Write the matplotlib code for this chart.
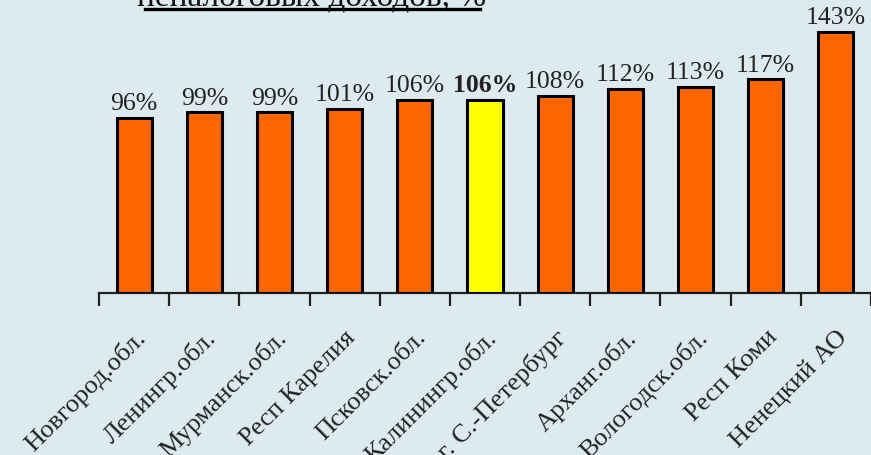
import numpy as np
import matplotlib.pyplot as plt
from matplotlib.lines import Line2D

# données : темпы роста неналоговых доходов
regions = ['Новгород.обл.', 'Ленингр.обл.', 'Мурманск.обл.', 'Респ Карелия',
           'Псковск.обл.', 'Калинингр.обл.', 'г. С.-Петербург', 'Арханг.обл.',
           'Вологодск.обл.', 'Респ Коми', 'Ненецкий АО']
valeurs = [96, 99, 99, 101, 106, 106, 108, 112, 113, 117, 143]
surligne = 'Калинингр.обл.'

fond = '#DDEBF1'
plt.rcParams['font.family'] = ['Liberation Serif', 'DejaVu Serif']

fig = plt.figure(figsize=(8.71, 4.55), dpi=100, facecolor=fond)
ax = fig.add_axes([99/871, 1 - 293/455, 1 - 99/871, 292/455])
ax.set_facecolor(fond)

x = np.arange(len(regions))
couleurs = ['#FFFF00' if r == surligne else '#FF6600' for r in regions]
bars = ax.bar(x, valeurs, width=0.5, color=couleurs,
              edgecolor='black', linewidth=2.2, zorder=3)

# étiquettes de valeurs
for xi, v, r in zip(x, valeurs, regions):
    ax.text(xi, v + 1.5, str(v) + '%', ha='center', va='bottom',
            fontsize=18.5, color='#222222',
            fontweight='bold' if r == surligne else 'normal')

ax.set_xlim(-0.5, len(regions) - 0.5)
ax.set_ylim(0, 160)

# axe horizontal avec graduations entre les barres
ax.set_xticks(np.arange(len(regions) + 1) - 0.5)
ax.set_xticklabels([])
ax.tick_params(axis='x', direction='out', length=9, width=1.6, color='#222222')
ax.set_xticks(x, minor=True)
ax.set_xticklabels(regions, minor=True, rotation=45, ha='right',
                   rotation_mode='anchor', fontsize=19, color='#222222')
ax.tick_params(axis='x', which='minor', length=0, pad=24)
ax.set_yticks([])
for s in ['left', 'right', 'top']:
    ax.spines[s].set_visible(False)
ax.spines['bottom'].set_linewidth(1.6)
ax.spines['bottom'].set_color('#222222')

# titre (en partie coupé en haut, comme dans l'original)
fig.text(312/871, 1 - 6/455, 'неналоговых доходов, %', ha='center', va='baseline',
         fontsize=24, color='#111111')
fig.add_artist(Line2D([145/871, 480/871], [1 - 9/455, 1 - 9/455],
                      transform=fig.transFigure, color='black', linewidth=2.4))

plt.savefig('out.png', dpi=100, facecolor=fond)
